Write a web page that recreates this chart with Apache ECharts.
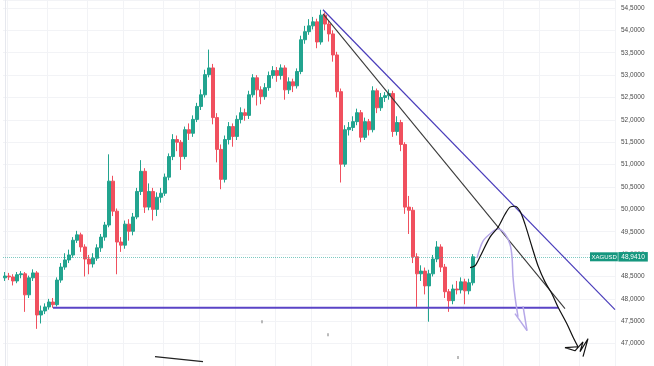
<!DOCTYPE html>
<html>
<head>
<meta charset="utf-8">
<script src="https://cdn.jsdelivr.net/npm/echarts@6/dist/echarts.min.js"></script>
<style>
html,body{margin:0;padding:0;background:#fff;}
#c{width:654px;height:366px;}
</style>
</head>
<body>
<div id="c"></div>
<script>
// ---- data ----
const symbol = 'XAGUSD';
const lastPrice = 48.941;
const opens = [
48.47,48.51,48.49,48.40,48.54,48.56,48.09,48.47,48.58,47.64,
47.73,47.82,47.93,47.87,48.42,48.71,48.87,48.98,49.31,49.43,
49.16,48.89,48.78,48.91,49.14,49.38,49.65,50.63,49.96,49.27,
49.20,49.67,49.51,49.83,50.40,50.85,50.05,50.40,50.00,50.27,
50.36,50.72,51.18,51.56,51.50,51.18,51.78,51.70,52.01,52.30,
52.56,53.01,53.16,52.05,51.34,50.67,51.56,51.85,51.63,52.01,
52.16,52.10,52.56,52.94,52.67,52.52,52.72,52.99,53.10,52.99,
53.16,52.67,52.85,52.76,53.08,53.79,53.97,54.10,54.19,53.74,
54.34,54.14,53.92,53.45,52.63,51.01,51.78,51.83,51.96,52.16,
51.61,51.96,51.78,52.65,52.27,52.50,52.54,52.59,51.74,51.94,
51.45,50.05,49.98,48.94,48.56,48.62,48.29,48.56,48.89,49.16,
48.71,48.16,47.96,48.22,48.20,48.38,48.18,48.36];
const closes = [
48.51,48.49,48.40,48.54,48.56,48.09,48.47,48.58,47.64,47.73,
47.82,47.93,47.87,48.42,48.71,48.87,48.98,49.31,49.43,49.16,
48.89,48.78,48.91,49.14,49.38,49.65,50.63,49.96,49.27,49.20,
49.67,49.51,49.83,50.40,50.85,50.05,50.40,50.00,50.27,50.36,
50.72,51.18,51.56,51.50,51.18,51.78,51.70,52.01,52.30,52.56,
53.01,53.16,52.05,51.34,50.67,51.56,51.85,51.63,52.01,52.16,
52.10,52.56,52.94,52.67,52.52,52.72,52.99,53.10,52.99,53.16,
52.67,52.85,52.76,53.08,53.79,53.97,54.10,54.19,53.74,54.34,
54.14,53.92,53.45,52.63,51.01,51.78,51.83,51.96,52.16,51.61,
51.96,51.78,52.65,52.27,52.50,52.54,52.59,51.74,51.94,51.45,
50.05,49.98,48.94,48.56,48.62,48.29,48.56,48.89,49.16,48.71,
48.16,47.96,48.22,48.20,48.38,48.18,48.36,48.94];
const lows = [
48.40,48.42,48.30,48.35,48.46,47.71,48.02,48.40,47.33,47.45,
47.66,47.76,47.80,47.83,48.36,48.65,48.80,48.92,49.25,49.05,
48.50,48.55,48.70,48.85,49.05,49.30,49.60,49.85,48.55,49.05,
49.12,49.30,49.42,49.78,50.32,49.92,49.98,49.75,49.85,50.15,
50.30,50.65,51.10,51.30,50.88,51.12,51.55,51.62,51.95,52.22,
52.50,52.95,51.90,51.05,50.45,50.60,51.45,51.40,51.55,51.92,
51.98,52.02,52.50,52.32,52.35,52.45,52.65,52.92,52.85,52.90,
52.45,52.58,52.62,52.70,53.02,53.70,53.90,54.02,53.60,53.68,
54.00,53.75,53.30,52.50,50.60,50.95,51.65,51.75,51.88,51.50,
51.55,51.65,51.72,52.15,52.20,52.40,52.45,51.62,51.65,51.30,
49.90,49.45,48.80,47.82,48.40,48.10,47.49,48.50,48.82,48.60,
48.02,47.71,47.88,48.10,48.12,47.88,48.10,48.30];
const highs = [
48.60,48.58,48.55,48.60,48.62,48.60,48.52,48.66,48.62,47.85,
47.90,48.00,48.02,48.48,48.80,49.02,49.10,49.38,49.52,49.48,
49.22,48.98,49.02,49.22,49.45,49.72,51.23,50.75,50.02,49.38,
49.75,49.78,49.92,50.48,51.10,50.92,50.58,50.48,50.38,50.48,
50.80,51.25,51.68,51.65,51.55,51.85,51.92,52.10,52.38,52.68,
53.12,53.57,53.25,52.15,51.45,51.65,51.95,51.92,52.10,52.28,
52.25,52.65,53.02,53.00,52.75,52.82,53.08,53.20,53.18,53.24,
53.22,52.95,52.92,53.15,53.88,54.10,54.25,54.30,54.26,54.46,
54.40,54.22,54.00,53.52,52.70,51.88,51.95,52.08,52.25,52.22,
52.05,52.02,52.75,52.70,52.60,52.62,52.68,52.65,52.08,52.00,
51.50,50.30,50.05,49.02,48.75,48.70,48.65,48.98,49.29,49.22,
48.78,48.22,48.32,48.40,48.48,48.45,48.45,49.00];
const totalSlots = 153;                 // candles + empty right margin
const gridLineSlots = [1,11,21,30,40,49,58,68,77,87,96,106,115,125,134,144];
const priceTicks = {min: 46.5, max: 54.678, step: 0.5};

// drawings, in [candle index, price]
const supportLine = [[12, 47.80], [138.25, 47.80]];
const upperTrend = [[79.5, 54.46], [152.5, 47.76]];
const lowerTrend = [[79.5, 54.37], [140, 47.78]];
const blackPath = [[116.25,48.70],[117.5,48.74],[118.75,48.94],[121.25,49.38],[123.25,49.60],[125,49.89],[126.25,50.05],[127.5,50.07],[128.75,49.96],[130,49.67],[131.75,49.16],[133.25,48.74],[135,48.38],[136.75,48.11],[138.25,47.82],[140.5,47.44],[142,47.15],[143.25,46.93]];
const scribble = [[143.25,46.93],[140,46.91],[142.5,46.84],[144.5,47.04],[143.75,46.82],[145.75,47.11],[144.5,46.71]];
const purplePath = [[118,48.91],[119.5,49.29],[121.75,49.49],[123.25,49.56],[125,49.45],[126.25,49.22],[126.75,48.94],[127,48.49],[127.5,48.05],[128.25,47.60]];
const arrowLeft = [[127.5,47.67],[130.5,47.29]];
const arrowRight = [[129.5,47.84],[130.5,47.29]];
const bottomStroke = [[37.5,46.71],[49.5,46.60]];
const tinyMarks = [[64.25,47.49],[80.75,47.20],[113.25,46.69]];

// ---- build ----
const categories = Array.from({length: totalSlots}, (_, i) => String(i));
const ohlc = opens.map((o, i) => [o, closes[i], lows[i], highs[i]]);
const fmt = v => v.toFixed(4).replace('.', ',');

function lineSeries(data, color, width, smooth) {
  return {type: 'line', xAxisIndex: 1, data: data, symbol: 'none', silent: true,
    lineStyle: {color: color, width: width}, smooth: smooth || false, z: 5};
}

const chart = echarts.init(document.getElementById('c'), null, {renderer: 'canvas'});
chart.setOption({
  animation: false,
  backgroundColor: '#ffffff',
  grid: {left: 3, right: 39, top: 0, bottom: -2, containLabel: false},
  xAxis: [{
    type: 'category', data: categories, boundaryGap: true,
    axisLine: {show: false}, axisTick: {show: false}, axisLabel: {show: false},
    splitLine: {show: true, interval: (idx) => gridLineSlots.indexOf(idx) >= 0,
      lineStyle: {color: '#f2f3f6', width: 1}}
  }, {
    type: 'value', min: -0.5, max: totalSlots - 0.5, show: false
  }],
  yAxis: {
    type: 'value', position: 'right', scale: true,
    min: priceTicks.min, max: priceTicks.max, interval: priceTicks.step,
    axisLine: {show: true, lineStyle: {color: '#e6e8ee'}},
    axisTick: {show: false},
    axisLabel: {formatter: fmt, fontSize: 6.5, color: '#4a4a4a', margin: 6,
      fontFamily: 'Liberation Sans, Arial, sans-serif', showMaxLabel: false, showMinLabel: false},
    splitLine: {show: true, lineStyle: {color: '#f2f3f6', width: 1}}
  },
  series: [{
    type: 'candlestick', data: ohlc, barWidth: 2.6,
    itemStyle: {color: '#22a48f', color0: '#f0505e', borderColor: '#22a48f', borderColor0: '#f0505e', borderWidth: 1},
    markLine: {
      silent: true, symbol: 'none', animation: false,
      lineStyle: {color: 'rgba(38,166,154,0.6)', type: 'dotted', width: 1},
      label: {
        show: true, position: 'end', distance: 0, offset: [-25, 0],
        formatter: '{a|' + symbol + '}{b|' + fmt(lastPrice) + '}',
        rich: {
          a: {backgroundColor: '#16977f', color: '#ffffff', fontSize: 6, padding: [1.8, 1.5, 1.2, 1.5], fontFamily: 'Liberation Sans, Arial, sans-serif'},
          b: {backgroundColor: '#16977f', color: '#ffffff', fontSize: 6.5, padding: [1.5, 3, 1, 3], borderColor: '#ffffff', borderWidth: 0.5, fontFamily: 'Liberation Sans, Arial, sans-serif'}
        }
      },
      data: [{yAxis: lastPrice}]
    }
  },
  lineSeries(supportLine, '#5a44c6', 2),
  lineSeries(upperTrend, '#4a3dbb', 1.2),
  lineSeries(lowerTrend, '#3a3a3a', 1.1),
  lineSeries(purplePath, '#b6a8e8', 1.5, 0.3),
  lineSeries(arrowLeft, '#b6a8e8', 1.5),
  lineSeries(arrowRight, '#b6a8e8', 1.5),
  lineSeries(blackPath, '#111111', 1.2, 0.3),
  lineSeries(scribble, '#111111', 1.2),
  lineSeries(bottomStroke, '#222222', 1.3),
  {type: 'scatter', xAxisIndex: 1, data: tinyMarks, symbol: 'rect', symbolSize: [1, 3],
    itemStyle: {color: '#555'}, silent: true}
  ]
});
</script>
</body>
</html>
